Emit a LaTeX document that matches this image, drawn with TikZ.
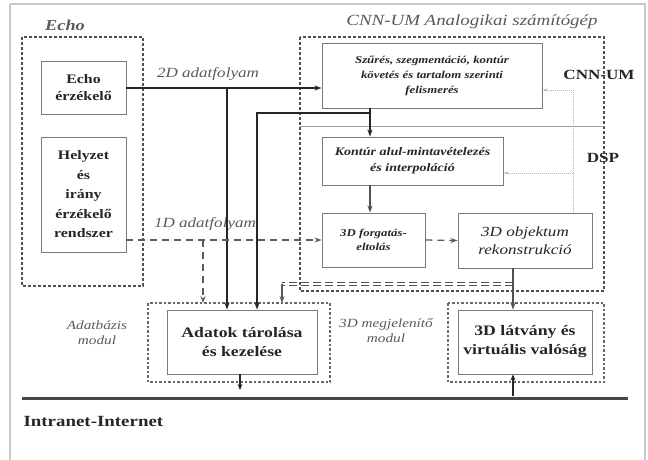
\documentclass[tikz,border=0pt]{standalone}
\usepackage{fontspec}
\setmainfont[FakeStretch=1.22]{Liberation Serif}
\usetikzlibrary{arrows.meta}
\definecolor{ink}{HTML}{262626}
\definecolor{lbl}{HTML}{5A5A5A}
\definecolor{boxline}{HTML}{7A7A7A}
\definecolor{frame}{HTML}{C8C8C8}
\tikzset{
  blk/.style={draw=boxline, line width=0.9pt, align=center, inner sep=2pt, text=ink, font=\bfseries\fontsize{13}{17}\selectfont},
  iblk/.style={draw=boxline, line width=0.9pt, align=center, inner sep=2pt, text=ink, font=\bfseries\itshape\fontsize{10.5}{15}\selectfont},
  grp/.style={draw=ink!80, line width=1.1pt, dash pattern=on 3pt off 2pt},
  modgrp/.style={draw=ink!70, line width=1.6pt, dash pattern=on 2.5pt off 2pt},
  glbl/.style={text=lbl, font=\itshape\fontsize{14}{16}\selectfont, align=center},
  sglbl/.style={text=lbl, font=\itshape\fontsize{12.5}{15}\selectfont, align=center},
  flow/.style={draw=ink, line width=1.6pt},
  dflow/.style={draw=ink!75, line width=1.3pt, dash pattern=on 7pt off 5pt},
  ddash/.style={draw=ink!80, line width=1pt, dash pattern=on 8pt off 4pt},
  gdot/.style={draw=frame!90!black, line width=0.9pt, dash pattern=on 1pt off 1pt},
  tip/.style={-{Stealth[length=7pt,width=5pt]}},
}
\begin{document}
\begin{tikzpicture}[x=1pt,y=-1pt]
\useasboundingbox (0,0) rectangle (648,459);
\fill[white] (0,0) rectangle (648,459);
\draw[frame, line width=2pt] (10,4) -- (645,4) -- (645,470) (10,4) -- (10,470);

% group boxes
\draw[grp] (22,37) rectangle (143,286);
\draw[grp] (300,37) rectangle (604,291);
\draw[frame!80!black, line width=0.7pt] (300,126) -- (604,126);
\draw[modgrp] (148,303) rectangle (330,382);
\draw[modgrp] (448,303) rectangle (604,382);

% labels
\node[text=lbl, font=\bfseries\itshape\fontsize{15}{17}\selectfont] (lecho) at (65,25) {Echo};
\node[glbl, font=\itshape\fontsize{15.5}{17}\selectfont] (lcnn) at (472,22) {CNN-UM Analogikai számítógép};
\node[text=ink, font=\bfseries\fontsize{14}{16}\selectfont] (lcnnum) at (599,75) {CNN-UM};
\node[text=ink, font=\bfseries\fontsize{14}{16}\selectfont] (ldsp) at (603,158) {DSP};
\node[glbl] (l2d) at (208,74) {2D adatfolyam};
\node[glbl] (l1d) at (205,224) {1D adatfolyam};
\node[sglbl] (ladb) at (97,333) {Adatbázis\\modul};
\node[sglbl] (l3dm) at (386,331) {3D megjelenítő\\modul};
\node[text=ink, font=\bfseries\fontsize{15.5}{17}\selectfont, anchor=west] (lnet) at (20,421) {Intranet-Internet};

% blocks
\node[blk, minimum width=85pt, minimum height=53pt] (echo) at (83.5,88) {Echo\\érzékelő};
\node[blk, minimum width=85pt, minimum height=115pt, font=\bfseries\fontsize{13}{19.5}\selectfont] (helyzet) at (83.5,194.5) {Helyzet\\és\\irány\\érzékelő\\rendszer};
\node[iblk, minimum width=220pt, minimum height=65pt] (b1) at (432,75.5) {Szűrés, szegmentáció, kontúr\\követés és tartalom szerinti\\felismerés};
\node[iblk, minimum width=181pt, minimum height=48pt, font=\bfseries\itshape\fontsize{11.5}{16}\selectfont] (b2) at (412.5,161) {Kontúr alul-mintavételezés\\és interpoláció};
\node[iblk, minimum width=103pt, minimum height=54pt, font=\bfseries\itshape\fontsize{10.5}{14}\selectfont] (b3) at (373.5,240) {3D forgatás-\\eltolás};
\node[iblk, minimum width=134pt, minimum height=55pt, font=\itshape\fontsize{14}{18}\selectfont] (b4) at (525,240.5) {3D objektum\\rekonstrukció};
\node[blk, minimum width=150pt, minimum height=64pt, font=\bfseries\fontsize{14.5}{19}\selectfont] (adat) at (242,342) {Adatok tárolása\\és kezelése};
\node[blk, minimum width=134pt, minimum height=64pt, font=\bfseries\fontsize{14.5}{19}\selectfont] (vr) at (525,342) {3D látvány és\\virtuális valóság};

% coordinates
\coordinate (c2d) at (227,88);
\coordinate (j1) at (370,113);
\coordinate (j1l) at (257,113);
\coordinate (c1d) at (203,240);
\coordinate (mtop) at (203,303);
\coordinate (k4) at (513,284);
\coordinate (k4l) at (282,284);
\coordinate (k4b) at (282,303);
\coordinate (g1) at (573,90);
\coordinate (g2) at (573,173);
\coordinate (netl) at (22,398);
\coordinate (netr) at (628,398);

% Intranet line
\draw[ink!85, line width=3pt] (netl) -- (netr);

% flows
\draw[flow, tip] (echo.east) -- (echo.east -| b1.west);
\draw[flow, tip] (c2d) -- (c2d |- adat.north);
\draw[flow, tip] (j1 |- b1.south) -- (j1 |- b2.north);
\draw[flow, tip] (j1) -- (j1l) -- (j1l |- adat.north);
\draw[draw=ink!80, line width=1.1pt, tip] (j1 |- b2.south) -- (j1 |- b3.north);
\draw[dflow, tip] (b3.west -| helyzet.east) -- (b3.west);
\draw[dflow, tip] (c1d) -- (mtop);
\draw[dflow, tip] (b3.east) -- (b4.west);
\draw[draw=ink!80, line width=1.1pt, tip] (k4 |- b4.south) -- (k4 |- vr.north);
\draw[ddash] (513,282.3) -- (282,282.3);
\draw[ddash] (513,285.7) -- (282,285.7);
\draw[draw=ink!75, line width=1.2pt, tip] (k4l) -- (k4b);

% gray dotted feedback
\draw[gdot, -{Stealth[length=5pt,width=3pt]}] (g1 |- b4.north) -- (g1) -- (g1 -| b1.east);
\draw[gdot, -{Stealth[length=5pt,width=3pt]}] (g2) -- (g2 -| b2.east);

% network connections
\draw[ink, line width=1.5pt, -{Stealth[length=6pt,width=5pt]}] (adat.south -| 240,0) -- (240,390);
\draw[ink, line width=1.5pt, -{Stealth[length=6pt,width=5pt]}] (513,396) -- (vr.south -| 513,0);
\end{tikzpicture}
\end{document}
